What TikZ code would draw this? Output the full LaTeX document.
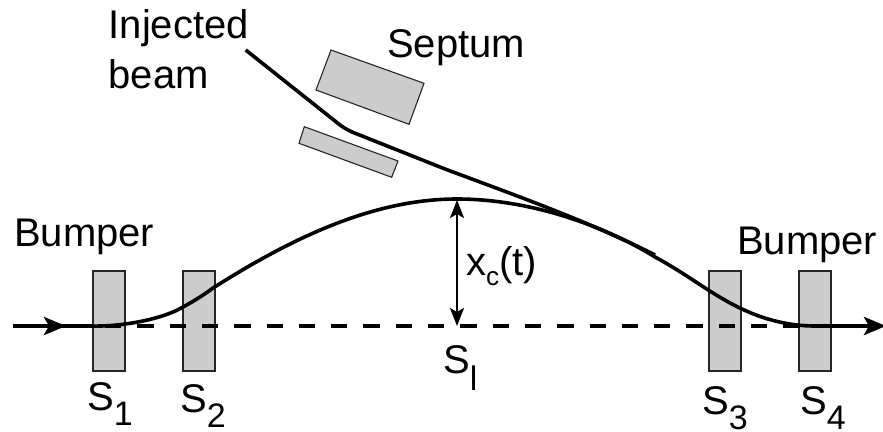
\documentclass[tikz,border=0pt]{standalone}
\usepackage{fontspec}
\setmainfont{Liberation Sans}
\usetikzlibrary{arrows.meta}
\newcommand{\lbl}[1]{{\fontsize{40}{40}\selectfont #1}}
\newcommand{\subl}[2]{\raisebox{-#1pt}{\fontsize{34}{34}\selectfont #2}}
\tikzset{
  magnet/.style={draw=black!85,line width=1.1pt,fill=black!20},
  mag/.style={magnet,minimum width=32pt,minimum height=100pt,inner sep=0pt},
  txt/.style={inner sep=0pt,anchor=base west,text=black},
  beam/.style={line width=3.6pt,line cap=butt},
  head/.style={-{Stealth[length=22pt,width=18pt,inset=5pt]}},
  dim/.style={line width=2.5pt,{Stealth[length=18pt,width=14pt,inset=4pt]}-{Stealth[length=18pt,width=14pt,inset=4pt]}}
}
\begin{document}
\begin{tikzpicture}[x=1pt,y=-1pt]
\useasboundingbox (0,0) rectangle (883,431);
\clip (0,0) rectangle (883,431);
% magnets
\node[mag] (m1) at (109,321) {};
\node[mag] (m2) at (199,321) {};
\node[mag] (m3) at (725,321) {};
\node[mag] (m4) at (815,321) {};
\draw[magnet] (331,50) -- (424,83.3) -- (409,124.3) -- (316,90) -- cycle;
\draw[magnet] (304.3,126.7) -- (398,161) -- (391.7,177.3) -- (299,143.3) -- cycle;
% axis
\coordinate (axL) at (40.4,326);
\coordinate (axR) at (815,326);
\draw[line width=4pt,dash pattern=on 16.3pt off 16pt] (axL) -- (axR);
% beam
\coordinate (inL) at (13,326);
\coordinate (inM) at (90,326);
\coordinate (outM) at (815,326);
\coordinate (outR) at (886,326);
\draw[line width=4pt,head] (inL) -- (66,326);
\draw[line width=4pt] (60,326) -- (inM);
\draw[line width=4pt,head] (outM) -- (outR);
\draw[beam] (inM) .. controls (125,327) and (165,318) .. (183,307)
  .. controls (196,300) and (205,294) .. (213,288)
  .. controls (295,236) and (375,199) .. (457,199)
  .. controls (535,199) and (610,229) .. (655,257)
  .. controls (690,276) and (712,295) .. (742,309)
  .. controls (765,320) and (790,326) .. (outM);
% injected
\coordinate (injS) at (245.7,50);
\coordinate (injE) at (655,255);
\draw[beam] (injS) -- (335,121) .. controls (342,127) and (346,129) .. (352,132)
  -- (445,169) .. controls (520,197) and (590,222) .. (injE);
% dimension
\coordinate (dimT) at (457,200);
\coordinate (dimB) at (457,326);
\draw[dim] (dimT) -- (dimB);
% labels
\node[txt] (tInj) at (108.5,38) {\lbl{Injected}};
\node[txt] (tBeam) at (108.5,88) {\lbl{beam}};
\node[txt] (tSep) at (387,57) {\lbl{Septum}};
\node[txt] (tB1) at (14,246) {\lbl{Bumper}};
\node[txt] (tB2) at (737,254) {\lbl{Bumper}};
\node[txt] (tS1) at (87,410) {\lbl{S}\subl{15}{1}};
\node[txt] (tS2) at (180,412) {\lbl{S}\subl{15}{2}};
\node[txt] (tS3) at (702,414) {\lbl{S}\subl{15}{3}};
\node[txt] (tS4) at (800,414) {\lbl{S}\subl{15}{4}};
\node[txt] (tSl) at (443,373) {\lbl{S}\subl{17}{l}};
\node[txt] (tX) at (466,275) {\lbl{x}\raisebox{-10pt}{\fontsize{26}{26}\selectfont c}\lbl{(t)}};
\end{tikzpicture}
\end{document}
